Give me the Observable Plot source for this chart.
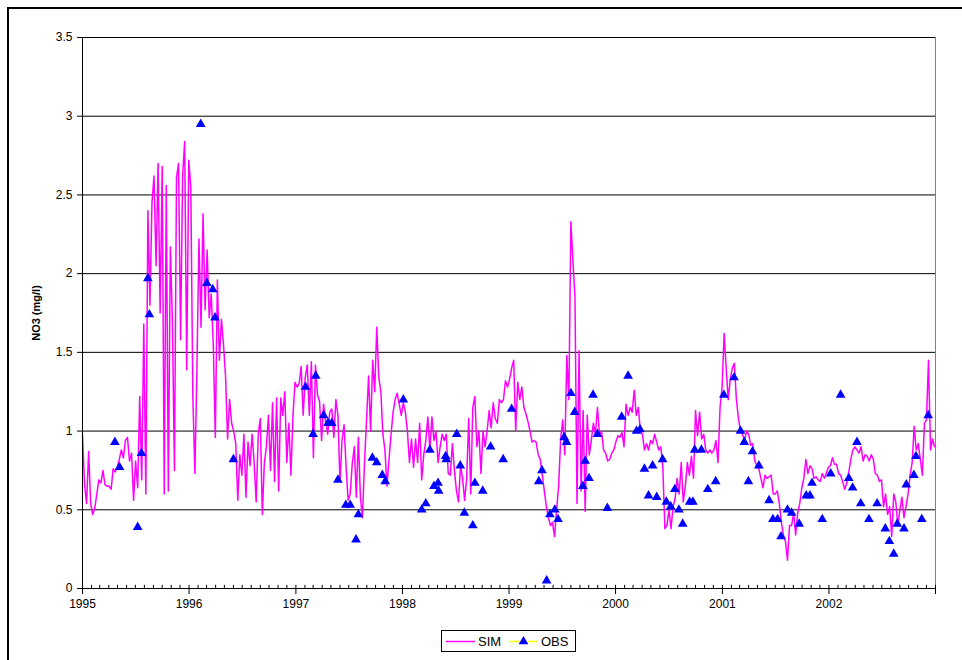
<!DOCTYPE html>
<html>
<head>
<meta charset="utf-8">
<script src="https://cdn.jsdelivr.net/npm/d3@7"></script>
<script src="https://cdn.jsdelivr.net/npm/@observablehq/plot@0.6"></script>
<style>
  html, body { margin: 0; padding: 0; background: #fff; overflow: hidden; }
  body { width: 962px; height: 660px; position: relative; font-family: "Liberation Sans", Arial, sans-serif; }
  #chart { position: absolute; left: 0; top: 0; }
  #frame { position: absolute; left: 7px; top: 7px; width: 1000px; height: 700px; border: 2px solid #000; pointer-events: none; }
  #legend { position: absolute; left: 441px; top: 630px; width: 133px; height: 20px; border: 1px solid #000; background: #fff; }
</style>
</head>
<body>
<div id="chart"></div>
<div id="legend"></div>
<div id="frame"></div>
<script>
// ---- data ----
const simStart = "1995-01-01";      // first simulated value, then one value per week
const simStepDays = 7;
const simValues = [
  0.98,0.66,0.54,0.87,0.54,0.47,0.51,0.60,0.69,0.67,
  0.75,0.66,0.65,0.65,0.63,0.76,0.74,0.77,0.82,0.88,
  0.83,0.94,0.96,0.81,0.86,0.56,0.81,0.64,1.22,0.69,
  1.68,0.60,
  2.40,1.80,2.45,2.62,2.05,2.70,1.75,2.68,
  0.60,2.56,0.62,2.17,1.70,0.75,2.61,2.70,1.58,2.62,
  2.84,1.39,2.72,2.55,1.22,0.73,1.40,2.22,1.66,2.38,
  1.77,2.15,1.72,1.87,1.55,0.96,1.96,1.45,1.71,
  1.55,1.35,0.95,1.20,1.05,1.00,0.92,0.56,0.85,0.72,
  0.98,0.58,0.93,0.78,0.98,0.80,0.55,0.98,1.08,0.47,
  0.80,0.90,1.10,0.75,1.18,0.68,1.21,0.62,1.21,1.10,
  1.25,0.80,1.05,0.72,1.10,1.31,1.28,1.30,1.41,1.10,
  1.34,1.42,1.10,1.44,0.83,1.42,1.23,1.19,0.94,1.17,
  1.06,0.98,1.12,1.14,0.96,1.20,1.10,0.68,0.94,1.04,
  0.77,0.56,0.60,0.79,0.90,0.58,0.96,0.58,0.45,0.80,
  1.07,1.35,1.00,1.45,1.25,1.66,1.34,1.25,0.98,0.88,
  0.65,0.82,0.98,1.12,1.20,1.24,1.17,1.10,1.18,1.12,
  1.00,0.80,0.95,0.77,0.95,0.80,1.05,0.69,0.85,0.94,
  1.09,0.88,1.09,0.94,1.00,0.80,0.90,0.98,0.94,0.98,
  0.73,0.72,0.92,0.75,0.62,0.55,0.78,0.70,0.56,0.70,
  1.08,0.60,1.15,1.22,0.90,1.00,0.73,1.00,0.90,1.00,
  1.13,1.02,1.18,1.08,1.05,1.20,1.18,1.20,1.32,1.28,
  1.33,1.40,1.45,1.00,1.31,1.20,1.28,1.15,1.11,1.06,
  1.00,0.93,0.94,0.93,0.85,0.82,0.72,0.62,0.52,0.45,
  0.40,0.42,0.33,0.50,0.65,0.95,1.07,0.85,1.48,1.20,
  2.33,2.08,1.85,0.54,1.51,0.62,1.13,0.49,1.10,0.85,
  0.94,1.05,0.98,1.15,0.98,1.00,0.88,0.86,0.81,0.82,
  0.86,0.88,0.93,0.97,0.96,0.99,0.90,1.17,1.10,1.15,
  1.12,1.26,1.10,1.15,1.00,0.98,0.88,0.92,0.88,
  0.94,0.92,0.98,0.93,0.88,0.90,0.77,0.38,0.40,0.50,
  0.38,0.52,0.57,0.70,0.60,0.80,0.55,0.65,0.80,0.72,
  0.84,0.70,1.13,0.97,1.12,0.95,0.98,0.88,0.86,0.88,
  0.86,0.88,0.94,0.80,1.15,1.28,1.62,1.40,1.20,1.33,
  1.40,1.43,1.20,1.08,1.00,0.98,0.94,1.00,0.98,0.91,
  0.92,0.81,0.78,0.76,0.70,0.64,0.72,0.70,0.71,0.72,
  0.60,0.60,0.62,0.54,0.42,0.34,0.30,0.18,0.40,
  0.40,0.48,0.34,0.48,0.54,0.64,0.70,0.82,0.73,0.78,
  0.76,0.70,0.71,0.69,0.68,0.73,0.70,0.73,0.77,0.78,
  0.83,0.79,0.79,0.73,0.72,0.68,0.63,0.67,0.74,0.82,
  0.88,0.90,0.88,0.86,0.90,0.81,0.85,0.84,0.81,0.85,
  0.82,0.73,0.72,0.68,0.69,0.52,0.60,0.47,0.52,0.33,
  0.60,0.55,0.40,0.50,0.58,0.45,0.52,0.60,0.72,0.80,
  1.03,0.88,0.92,0.82,0.72,1.05,1.07,1.45,0.88,0.95,
  0.90
];

const obsDates = [
  "1995-04-22","1995-05-08","1995-07-09","1995-07-22","1995-08-13","1995-08-18",
  "1996-02-10","1996-03-02","1996-03-22","1996-03-30","1996-06-01",
  "1997-02-03","1997-03-01","1997-03-10","1997-04-06","1997-04-21","1997-05-04","1997-05-25",
  "1997-06-21","1997-07-06","1997-07-26","1997-08-03","1997-09-20","1997-10-05","1997-10-24","1997-11-03",
  "1998-01-04","1998-03-08","1998-03-22","1998-04-05","1998-04-19","1998-05-03","1998-05-05",
  "1998-05-29","1998-05-31","1998-07-06","1998-07-18","1998-08-01","1998-08-30","1998-09-06",
  "1998-10-03","1998-10-30","1998-12-12",
  "1999-01-10","1999-04-13","1999-04-24","1999-05-10","1999-05-21","1999-06-07","1999-06-18",
  "1999-07-09","1999-07-17","1999-08-01","1999-08-14","1999-09-11","1999-09-19","1999-10-02",
  "1999-10-16","1999-10-31","1999-12-04",
  "2000-01-22","2000-02-13","2000-03-13","2000-03-25","2000-04-09","2000-04-23","2000-05-07",
  "2000-05-21","2000-06-10","2000-06-23","2000-07-08","2000-07-22","2000-08-05","2000-08-18",
  "2000-09-11","2000-09-22","2000-09-28","2000-10-21","2000-11-12","2000-12-09",
  "2001-01-06","2001-02-10","2001-03-04","2001-03-17","2001-03-31","2001-04-14","2001-05-06",
  "2001-06-10","2001-06-23","2001-07-09","2001-07-21","2001-08-12","2001-08-26","2001-09-21",
  "2001-10-15","2001-10-28","2001-11-04","2001-12-09",
  "2002-01-07","2002-02-10","2002-03-10","2002-03-23","2002-04-07","2002-04-20","2002-05-18",
  "2002-06-15","2002-07-13","2002-07-27","2002-08-11","2002-08-23","2002-09-15","2002-09-23",
  "2002-10-19","2002-10-26","2002-11-15","2002-12-07"
];
const obsValues = [
  0.93,0.77,0.39,0.86,1.97,1.74,
  2.95,1.94,1.90,1.72,0.82,
  1.28,0.98,1.35,1.10,1.05,1.05,0.69,
  0.53,0.53,0.31,0.47,0.83,0.80,0.72,0.68,
  1.20,0.50,0.54,0.88,0.65,0.67,0.62,
  0.84,0.82,0.98,0.78,0.48,0.40,0.67,
  0.62,0.90,0.82,
  1.14,0.68,0.75,0.05,0.47,0.50,0.44,
  0.96,0.93,1.24,1.12,0.65,0.81,0.70,
  1.23,0.98,0.51,
  1.09,1.35,1.00,1.01,0.76,0.59,0.78,
  0.58,0.82,0.55,0.52,0.63,0.50,0.41,
  0.55,0.55,0.88,0.88,0.63,0.68,
  1.23,1.34,1.00,0.93,0.68,0.87,0.78,
  0.56,0.44,0.44,0.33,0.50,0.48,0.41,
  0.59,0.59,0.67,0.44,
  0.73,1.23,0.70,0.64,0.93,0.54,0.44,
  0.54,0.38,0.30,0.22,0.41,0.38,0.66,
  0.72,0.84,0.44,1.10
];

const yearLabels = ["1995","1996","1997","1998","1999","2000","2001","2002"];
const yTicks = [0, 0.5, 1, 1.5, 2, 2.5, 3, 3.5];
const seriesNames = ["SIM", "OBS"];
const yTitle = "NO3 (mg/l)";

// ---- build ----
const t0 = new Date(simStart + "T00:00:00Z").getTime();
const sim = simValues.map((v, i) => ({date: new Date(t0 + i * simStepDays * 864e5), value: v}));
const obs = obsDates.map((d, i) => ({date: new Date(d + "T00:00:00Z"), value: obsValues[i]}));
const yearDates = yearLabels.map(y => new Date(y + "-01-01T00:00:00Z"));
const xStart = new Date("1995-01-01T00:00:00Z");
const xEnd = new Date("2003-01-01T00:00:00Z");
const monthDates = d3.utcMonth.range(xStart, new Date("2003-01-02T00:00:00Z"));

const chart = Plot.plot({
  width: 962,
  height: 615,
  marginLeft: 82,
  marginRight: 27,
  marginTop: 37,
  marginBottom: 27,
  style: {fontFamily: "'Liberation Sans', Arial, sans-serif", fontSize: "12px", background: "transparent", color: "#000"},
  x: {type: "utc", domain: [xStart, xEnd]},
  y: {domain: [0, 3.5]},
  marks: [
    Plot.ruleY(yTicks.filter(d => d > 0), {stroke: "#000", strokeWidth: 1}),
    Plot.ruleX([xEnd], {stroke: "#808080", strokeWidth: 1}),
    Plot.line(sim, {x: "date", y: "value", stroke: "#FF00FF", strokeWidth: 1.5}),
    Plot.dot(obs, {x: "date", y: "value", symbol: "triangle", r: 3.6, fill: "#0000FF", stroke: "none"}),
    Plot.ruleX(monthDates, {y1: 0, y2: 0.02, stroke: "#000"}),
    Plot.axisY({ticks: yTicks, tickFormat: d => String(d), tickSize: 5, tickPadding: 5, fontSize: 12, label: null}),
    Plot.axisX({ticks: yearDates.concat([xEnd]), tickFormat: d => (d.getUTCFullYear() < 2003 ? String(d.getUTCFullYear()) : ""), tickSize: 6, tickPadding: 5, fontSize: 12, label: null}),
    Plot.ruleY([0], {stroke: "#000", strokeWidth: 1}),
    Plot.ruleX([xStart], {stroke: "#000", strokeWidth: 1}),
    Plot.text([yTitle], {x: xStart, y: 1.75, frameAnchor: "left", dx: -46, rotate: -90, text: d => d, fontWeight: "bold", fontSize: 11, textAnchor: "middle"})
  ]
});
document.getElementById("chart").appendChild(chart);

// legend
const lg = d3.select("#legend").append("svg").attr("width", 133).attr("height", 20)
  .style("font-family", "'Liberation Sans', Arial, sans-serif").style("font-size", "13px");
lg.append("line").attr("x1", 4).attr("x2", 33).attr("y1", 10.5).attr("y2", 10.5).attr("stroke", "#FF00FF").attr("stroke-width", 1.5);
lg.append("text").attr("x", 36).attr("y", 15).text(seriesNames[0]);
lg.append("line").attr("x1", 67).attr("x2", 96).attr("y1", 10.5).attr("y2", 10.5).attr("stroke", "#FFFF00").attr("stroke-width", 1.5);
lg.append("path").attr("d", d3.symbol(d3.symbolTriangle, Math.PI * 3.6 * 3.6)()).attr("transform", "translate(81.5,10.5)").attr("fill", "#0000FF");
lg.append("text").attr("x", 99).attr("y", 15).text(seriesNames[1]);
</script>
</body>
</html>
